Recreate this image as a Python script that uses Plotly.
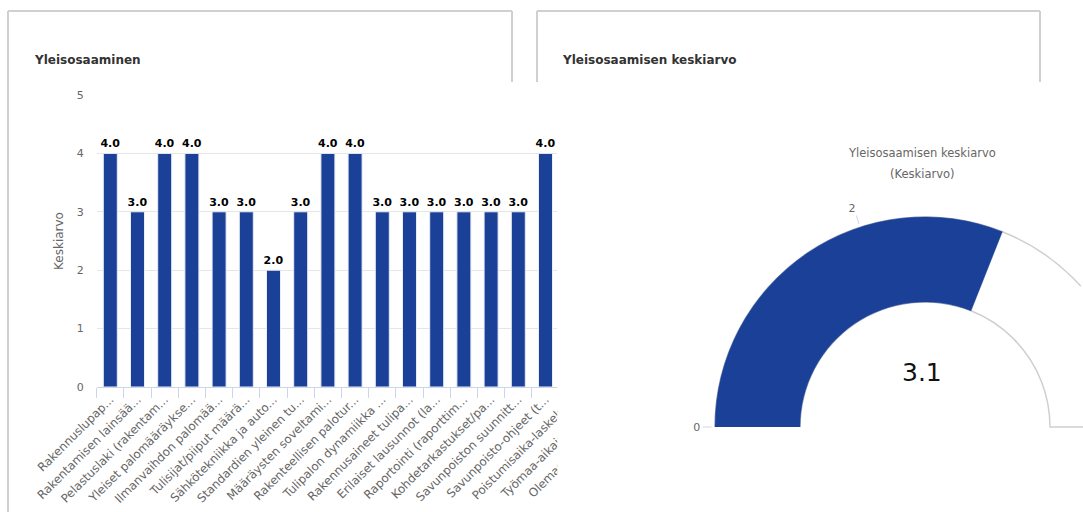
import math
import plotly.graph_objects as go

# ---------------- data ----------------
categories = [
    "Rakennuslupap...",
    "Rakentamisen lainsää...",
    "Pelastuslaki (rakentam...",
    "Yleiset palomääräykse...",
    "Ilmanvaihdon palomää...",
    "Tulisijat/piiput määrä...",
    "Sähkötekniikka ja auto...",
    "Standardien yleinen tu...",
    "Määräysten soveltami...",
    "Rakenteellisen palotur...",
    "Tulipalon dynamiikka ...",
    "Rakennusaineet tulipa...",
    "Erilaiset lausunnot (la...",
    "Raportointi (raporttim...",
    "Kohdetarkastukset/pa...",
    "Savunpoiston suunnitt...",
    "Savunpoisto-ohjeet (t...",
    "Poistumisaika-laskelm...",
    "Työmaa-aikaisen palo...",
    "Olemassa olevien rak...",
    "Riskienarvioinnin pe...",
]
values = [4, 3, 4, 4, 3, 3, 2, 3, 4, 4, 3, 3, 3, 3, 3, 3, 4, 3, 2, 2, 2]
y_tick_values = [0, 1, 2, 3, 4, 5]

gauge_value = 3.1
gauge_min = 0
gauge_max = 5
gauge_tick_values = [0, 2, 4]

bar_card_title = "Yleisosaaminen"
gauge_card_title = "Yleisosaamisen keskiarvo"
gauge_chart_title = ["Yleisosaamisen keskiarvo", "(Keskiarvo)"]
y_axis_title = "Keskiarvo"

# ---------------- style / layout ----------------
W, H = 1083, 512
BLUE = "#1b4098"
FONT = "DejaVu Sans"
GRAY_TXT = "#666666"
AXIS_COL = "#ccd6eb"
BORDER = "#d0d0d0"
GAUGE_LINE = "#cfcfcf"


def fx(px):
    return px / W


def fy(px):
    return 1 - px / H


# bar chart geometry (pixels)
plot_left = 96.7
cat_step = 27.2
y0_px, y5_px = 387, 95

# gauge geometry (pixels)
g_cx, g_cy = 925, 427
band_outer, band_inner = 210, 125
frame_outer, frame_inner = 213, 122          # polar frame slightly larger than band
r_lo = (band_inner - frame_inner) / (frame_outer - frame_inner)
r_hi = (band_outer - frame_inner) / (frame_outer - frame_inner)
right_px = W
theta_cut = math.degrees(math.acos((right_px - g_cx) / frame_outer))
SPAN = 180.0


def to_layout_deg(v):
    # value -> angle counter-clockwise from the right (0 at left = 180 deg)
    return 180.0 - (v - gauge_min) / (gauge_max - gauge_min) * SPAN


fig = go.Figure()

# main bar chart
fig.add_trace(go.Bar(
    x=categories, y=values,
    marker=dict(color=BLUE, line=dict(color="#e8ecf4", width=1)),
    texttemplate="%{y:.1f}", textposition="outside", constraintext="none",
    textfont=dict(family=FONT, size=11, color="#000000", weight="bold"),
    cliponaxis=False, xaxis="x", yaxis="y", showlegend=False,
))

# white container of the gauge chart (covers the overflow of the bar chart)
fig.add_trace(go.Bar(
    x=[0], y=[1], width=[1], marker=dict(color="#ffffff", line=dict(width=0)),
    xaxis="x2", yaxis="y2", hoverinfo="skip", showlegend=False,
))

v_end = to_layout_deg(gauge_value)
v_start = to_layout_deg(gauge_min)
b_end = to_layout_deg(gauge_max)

# gauge background band
fig.add_trace(go.Barpolar(
    theta=[(v_start + b_end) / 2], r=[r_hi - r_lo], width=[abs(v_start - b_end)], base=[r_lo],
    marker=dict(color="#ffffff", line=dict(color=GAUGE_LINE, width=1.5)),
    subplot="polar", hoverinfo="skip", showlegend=False,
))
# gauge value band
fig.add_trace(go.Barpolar(
    theta=[(v_start + v_end) / 2], r=[r_hi - r_lo], width=[abs(v_start - v_end)], base=[r_lo],
    marker=dict(color=BLUE, line=dict(color=BLUE, width=0.5)),
    subplot="polar", showlegend=False,
))

# right-hand tail of the gauge background (second polar frame that fits the page)
frame2_outer = right_px - g_cx
r2_lo = (band_inner - frame_inner) / (frame2_outer - frame_inner)
r2_hi = (band_outer - frame_inner) / (frame2_outer - frame_inner)
fig.add_trace(go.Barpolar(
    theta=[(v_start + b_end) / 2], r=[r2_hi - r2_lo], width=[abs(v_start - b_end)], base=[r2_lo],
    marker=dict(color="#ffffff", line=dict(color=GAUGE_LINE, width=1.5)),
    subplot="polar2", hoverinfo="skip", showlegend=False,
))
sector2 = [-4, theta_cut + 2]
s2_top = math.sin(math.radians(sector2[1]))
s2_bot = math.sin(math.radians(sector2[0]))

shapes = []


def seg(x0, y0, x1, y1):
    shapes.append(dict(type="line", xref="paper", yref="paper",
                       x0=fx(x0), y0=fy(y0), x1=fx(x1), y1=fy(y1),
                       line=dict(color=BORDER, width=2), layer="above"))


# card borders
seg(8, 11, 512, 11)
seg(8, 11, 8, 512)
seg(512, 11, 512, 82)
seg(537, 11, 1040, 11)
seg(537, 11, 537, 82)
seg(1040, 11, 1040, 82)

annotations = [
    dict(text="<b>%s</b>" % bar_card_title, x=fx(32), y=fy(60), xref="paper", yref="paper",
         xanchor="left", yanchor="middle", showarrow=False,
         font=dict(family=FONT, size=12, color="#333333")),
    dict(text="<b>%s</b>" % gauge_card_title, x=fx(560), y=fy(60), xref="paper", yref="paper",
         xanchor="left", yanchor="middle", showarrow=False,
         font=dict(family=FONT, size=12, color="#333333")),
    dict(text=gauge_chart_title[0], x=fx(922), y=fy(153), xref="paper", yref="paper",
         xanchor="center", yanchor="middle", showarrow=False,
         font=dict(family=FONT, size=11.5, color=GRAY_TXT)),
    dict(text=gauge_chart_title[1], x=fx(922), y=fy(174), xref="paper", yref="paper",
         xanchor="center", yanchor="middle", showarrow=False,
         font=dict(family=FONT, size=11.5, color=GRAY_TXT)),
    dict(text="%.1f" % gauge_value, x=fx(922), y=fy(372), xref="paper", yref="paper",
         xanchor="center", yanchor="middle", showarrow=False,
         font=dict(family=FONT, size=25, color="#111111")),
]

fig.update_layout(
    width=W, height=H,
    margin=dict(l=0, r=0, t=0, b=0),
    paper_bgcolor="#ffffff", plot_bgcolor="#ffffff",
    font=dict(family=FONT, color=GRAY_TXT),
    bargap=1 - 14 / cat_step,
    showlegend=False,
    xaxis=dict(
        domain=[fx(plot_left), fx(plot_left + len(categories) * cat_step)],
        anchor="y", type="category", tickson="boundaries",
        ticks="outside", ticklen=10, tickcolor=AXIS_COL, tickwidth=1,
        showline=True, linecolor=AXIS_COL, linewidth=1,
        showgrid=False, tickangle=-45,
        tickfont=dict(family=FONT, size=11.8, color=GRAY_TXT),
        automargin=False, fixedrange=True,
    ),
    yaxis=dict(
        domain=[1 - y0_px / H, 1 - y5_px / H],
        anchor="x", range=[0, 5], tickmode="array", tickvals=y_tick_values,
        gridcolor="#e6e6e6", gridwidth=1, zeroline=False, showline=False,
        tickfont=dict(family=FONT, size=11, color=GRAY_TXT),
        ticklabelstandoff=12,
        title=dict(text=y_axis_title, font=dict(family=FONT, size=12, color=GRAY_TXT), standoff=10),
        automargin=False, fixedrange=True,
    ),
    xaxis2=dict(domain=[fx(557.5), 1], anchor="y2", range=[-0.49, 0.49], visible=False, fixedrange=True),
    yaxis2=dict(domain=[0, 1 - 83 / H], anchor="x2", range=[0.01, 0.99], visible=False, fixedrange=True),
    polar=dict(
        domain=dict(x=[fx(g_cx - frame_outer), 1], y=[fy(g_cy), fy(g_cy - frame_outer)]),
        sector=[theta_cut, 180], hole=frame_inner / frame_outer, bgcolor="rgba(0,0,0,0)",
        radialaxis=dict(visible=False, range=[0, 1]),
        angularaxis=dict(
            rotation=0, direction="counterclockwise", thetaunit="degrees",
            tickmode="array", tickvals=[to_layout_deg(t) for t in gauge_tick_values],
            ticktext=[str(t) for t in gauge_tick_values],
            ticks="outside", ticklen=9, tickcolor=AXIS_COL,
            tickfont=dict(family=FONT, size=11, color=GRAY_TXT),
            showline=False, showgrid=False,
        ),
    ),
    polar2=dict(
        domain=dict(x=[fx(g_cx), 1],
                    y=[fy(g_cy - frame2_outer * s2_bot), fy(g_cy - frame2_outer * s2_top)]),
        sector=sector2, hole=frame_inner / frame2_outer, bgcolor="rgba(0,0,0,0)",
        radialaxis=dict(visible=False, range=[0, 1]),
        angularaxis=dict(rotation=0, direction="counterclockwise", thetaunit="degrees",
                         showticklabels=False, ticks="", showline=False, showgrid=False),
    ),
    shapes=shapes,
    annotations=annotations,
)

fig.write_html("out.html", config=dict(displayModeBar=False))
